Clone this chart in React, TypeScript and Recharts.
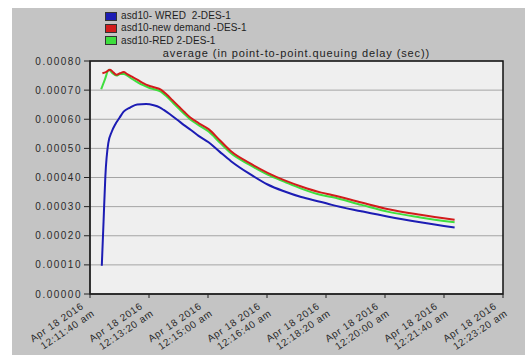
import React from "react";
import { LineChart, Line, XAxis, YAxis, CartesianGrid, ReferenceArea, Legend } from "recharts";

// time in seconds after 12:00:00 am, values in seconds
const wredTimes = [720, 723, 726, 731, 737, 743, 750, 757, 768, 780, 795, 808, 818, 825, 835, 848, 860, 871, 884, 901, 920, 939, 970, 1001, 1030, 1058, 1092, 1110, 1160, 1206, 1260, 1318];
const wredValues = [0.000097, 0.00025, 0.000403, 0.000518, 0.000558, 0.000583, 0.000605, 0.000626, 0.00064, 0.000651, 0.000652, 0.000648, 0.000641, 0.000632, 0.000618, 0.000598, 0.000579, 0.000563, 0.000543, 0.000521, 0.000488, 0.000456, 0.000413, 0.000376, 0.000352, 0.000333, 0.000316, 0.000306, 0.000284, 0.000265, 0.000246, 0.000228];

const newDemandTimes = [721, 727, 734, 740, 745, 751, 757, 763, 770, 780, 790, 800, 810, 820, 830, 840, 850, 860, 870, 884, 901, 920, 939, 970, 1001, 1030, 1058, 1092, 1110, 1160, 1206, 1260, 1318];
const newDemandValues = [0.000758, 0.000762, 0.00077, 0.00076, 0.000753, 0.000758, 0.000762, 0.000755, 0.000747, 0.000736, 0.000724, 0.000715, 0.000709, 0.000702, 0.000685, 0.000665, 0.000645, 0.000625, 0.000606, 0.000587, 0.000566, 0.000528, 0.00049, 0.00045, 0.000416, 0.00039, 0.000369, 0.000348, 0.00034, 0.000314, 0.000291, 0.000272, 0.000255];

const redTimes = [719, 725, 732, 738, 745, 751, 757, 763, 770, 780, 790, 800, 810, 820, 830, 840, 850, 860, 870, 884, 901, 920, 939, 970, 1001, 1030, 1058, 1092, 1110, 1160, 1206, 1260, 1318];
const redValues = [0.000703, 0.000735, 0.00077, 0.000758, 0.00075, 0.000755, 0.000755, 0.00075, 0.00074, 0.000728, 0.000717, 0.000708, 0.000702, 0.000695, 0.000678, 0.000658, 0.000638, 0.000618, 0.000599, 0.00058, 0.000558, 0.00052, 0.000483, 0.000444, 0.00041, 0.000385, 0.000362, 0.00034, 0.000333, 0.000306, 0.000282, 0.000263, 0.000246];

const seriesNames = ["asd10- WRED  2-DES-1", "asd10-new demand -DES-1", "asd10-RED 2-DES-1"];
const seriesColors = ["#1c1cb4", "#d21c1c", "#3ede3e"];

const xTicks = [700, 800, 900, 1000, 1100, 1200, 1300, 1400];
const xTickDates = ["Apr 18 2016", "Apr 18 2016", "Apr 18 2016", "Apr 18 2016", "Apr 18 2016", "Apr 18 2016", "Apr 18 2016", "Apr 18 2016"];
const xTickTimes = ["12:11:40 am", "12:13:20 am", "12:15:00 am", "12:16:40 am", "12:18:20 am", "12:20:00 am", "12:21:40 am", "12:23:20 am"];
const yTicks = [0, 0.0001, 0.0002, 0.0003, 0.0004, 0.0005, 0.0006, 0.0007, 0.0008];
const title = "average (in point-to-point.queuing delay (sec))";

const toData = (ts: number[], vs: number[]) => ts.map((t, i) => ({ t, v: vs[i] }));
const wredData = toData(wredTimes, wredValues);
const newDemandData = toData(newDemandTimes, newDemandValues);
const redData = toData(redTimes, redValues);

const FONT = "'Liberation Sans', Arial, sans-serif";

const XTick = (props: any) => {
  const { x, y, payload } = props;
  const i = xTicks.indexOf(payload.value);
  return (
    <g transform={`translate(${x},${y}) rotate(-34)`}>
      <text x={-10} y={5} textAnchor="end" fontSize={10} fill="#2a2a2a" fontFamily={FONT} letterSpacing={0.7}>
        {xTickDates[i]}
      </text>
      <text x={-5} y={17} textAnchor="end" fontSize={10} fill="#2a2a2a" fontFamily={FONT} letterSpacing={0.7}>
        {xTickTimes[i]}
      </text>
    </g>
  );
};

const LegendContent = () => (
  <div style={{ fontFamily: FONT, fontSize: 10, color: "#1e1e1e", lineHeight: "12.3px" }}>
    {seriesNames.map((n, i) => (
      <div key={n} style={{ display: "flex", alignItems: "center", whiteSpace: "pre" }}>
        <span style={{ display: "inline-block", width: 10, height: 7, background: seriesColors[i], border: "1px solid #333", marginRight: 4 }} />
        <span style={{ letterSpacing: 0.1 }}>{n}</span>
      </div>
    ))}
  </div>
);

export default function App() {
  return (
    <div style={{ position: "absolute", left: 0, top: 0, width: 525, height: 358, background: "#ffffff", overflow: "hidden" }}>
      <div style={{ position: "absolute", left: 12, top: 8, width: 513, height: 347, background: "#c4c4c4" }} />
      <div style={{ position: "absolute", left: 0, top: 0 }}>
        <LineChart width={525} height={358} margin={{ top: 61, right: 22, bottom: 0, left: 0 }}>
          <CartesianGrid horizontal vertical={false} stroke="#a4a4a4" strokeWidth={1} fill="#efefef" />
          <XAxis
            type="number"
            dataKey="t"
            domain={[700, 1400]}
            ticks={xTicks}
            interval={0}
            height={64}
            tickSize={4}
            tickMargin={0}
            axisLine={{ stroke: "#222" }}
            tickLine={{ stroke: "#222" }}
            tick={<XTick />}
            allowDataOverflow
          />
          <YAxis
            type="number"
            domain={[0, 0.0008]}
            ticks={yTicks}
            interval={0}
            width={90}
            tickSize={6}
            tickMargin={2}
            axisLine={{ stroke: "#222" }}
            tickLine={{ stroke: "#222" }}
            tickFormatter={(v: number) => v.toFixed(5)}
            tick={{ fill: "#2a2a2a", fontSize: 10, fontFamily: FONT, letterSpacing: 1.5 }}
          />
          <ReferenceArea x1={700} x2={1400} y1={0} y2={0.0008} fill="none" stroke="#111" strokeWidth={1.5} ifOverflow="visible" />
          <Legend
            layout="vertical"
            align="center"
            verticalAlign="middle"
            content={<LegendContent />}
            wrapperStyle={{ position: "absolute", left: 105, top: 10, width: 200, height: 40 }}
          />
          <Line data={wredData} dataKey="v" name={seriesNames[0]} type="monotone" stroke={seriesColors[0]} strokeWidth={2} dot={false} isAnimationActive={false} />
          <Line data={redData} dataKey="v" name={seriesNames[2]} type="monotone" stroke={seriesColors[2]} strokeWidth={2} dot={false} isAnimationActive={false} />
          <Line data={newDemandData} dataKey="v" name={seriesNames[1]} type="monotone" stroke={seriesColors[1]} strokeWidth={2} dot={false} isAnimationActive={false} />
        </LineChart>
      </div>
      <div style={{ position: "absolute", left: 90, width: 413, top: 47, textAlign: "center", fontFamily: FONT, fontSize: 11, color: "#1e1e1e", letterSpacing: 0.9, whiteSpace: "pre" }}>
        {title}
      </div>
    </div>
  );
}
